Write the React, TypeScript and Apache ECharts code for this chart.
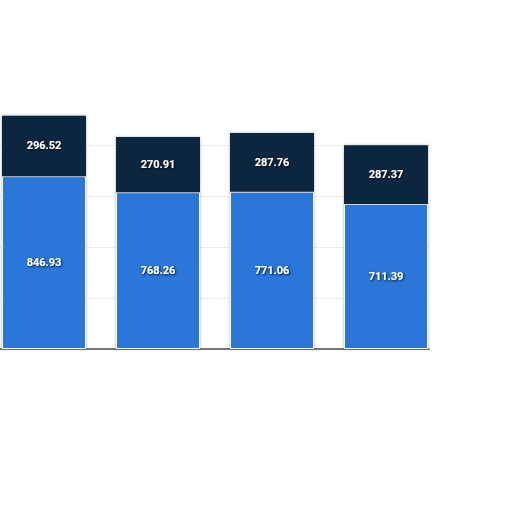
import React, { useEffect, useRef } from 'react';
import * as echarts from 'echarts';

// categories (labels are cut off in the picture) and stacked values
const categories = ['1', '2', '3', '4'];
const lowerValues = [846.93, 768.26, 771.06, 711.39];
const upperValues = [296.52, 270.91, 287.76, 287.37];

const yMax = 1250;
const yInterval = 250;

const BLUE = '#2a76d9';
const NAVY = '#10263f';

const labelStyle = {
    show: true,
    position: 'inside' as const,
    color: '#ffffff',
    fontFamily: 'Roboto, "Noto Sans", sans-serif',
    fontWeight: 'bold' as const,
    fontSize: 11,
    textShadowColor: 'rgba(0,0,0,0.85)',
    textShadowBlur: 2,
    textShadowOffsetX: 1,
    textShadowOffsetY: 1,
    formatter: (p: any) => Number(p.value).toFixed(2),
};

const App: React.FC = () => {
    const chartRef = useRef<HTMLDivElement>(null);

    useEffect(() => {
        document.body.style.margin = '0';
        if (!chartRef.current) return;

        const chart = echarts.init(chartRef.current, undefined, { renderer: 'svg' });

        const option: any = {
            animation: false,
            backgroundColor: '#ffffff',
            grid: [
                // bars (the left edge of the chart is cropped off)
                { left: -13, width: 456, top: 94, bottom: 163, outerBoundsMode: 'none' },
                // axis line + grid lines, which stop at the last bar
                { left: 0, width: 429, top: 94, bottom: 163, outerBoundsMode: 'none' },
            ],
            xAxis: [
                {
                    type: 'category',
                    gridIndex: 0,
                    data: categories,
                    axisLabel: { show: false },
                    axisTick: { show: false },
                    axisLine: { show: false },
                    splitLine: { show: false },
                },
                {
                    type: 'value',
                    gridIndex: 1,
                    min: 0,
                    max: 1,
                    axisLabel: { show: false },
                    axisTick: { show: false },
                    splitLine: { show: false },
                    axisLine: { show: true, lineStyle: { color: '#4a4f57', width: 1.5 } },
                },
            ],
            yAxis: [
                {
                    type: 'value',
                    gridIndex: 0,
                    min: 0,
                    max: yMax,
                    interval: yInterval,
                    axisLabel: { show: false },
                    axisTick: { show: false },
                    axisLine: { show: false },
                    splitLine: { show: false },
                },
                {
                    type: 'value',
                    gridIndex: 1,
                    min: 0,
                    max: yMax,
                    interval: yInterval,
                    axisLabel: { show: false },
                    axisTick: { show: false },
                    axisLine: { show: false },
                    splitLine: {
                        show: true,
                        showMaxLine: false,
                        lineStyle: { color: '#dadada', type: 'dotted', width: 1 },
                    },
                },
            ],
            series: [
                {
                    type: 'bar',
                    stack: 'total',
                    barWidth: 84,
                    z: 3,
                    data: lowerValues,
                    itemStyle: {
                        color: BLUE,
                        borderColor: '#ffffff',
                        borderWidth: 1,
                        shadowColor: 'rgba(0,0,0,0.3)',
                        shadowBlur: 3,
                    },
                    label: labelStyle,
                },
                {
                    type: 'bar',
                    stack: 'total',
                    barWidth: 84,
                    z: 3,
                    data: upperValues,
                    itemStyle: {
                        color: NAVY,
                        shadowColor: 'rgba(0,0,0,0.3)',
                        shadowBlur: 3,
                    },
                    label: labelStyle,
                },
            ],
        };

        chart.setOption(option);

        return () => {
            chart.dispose();
        };
    }, []);

    return <div ref={chartRef} style={{ width: 512, height: 512 }} />;
};

export default App;
